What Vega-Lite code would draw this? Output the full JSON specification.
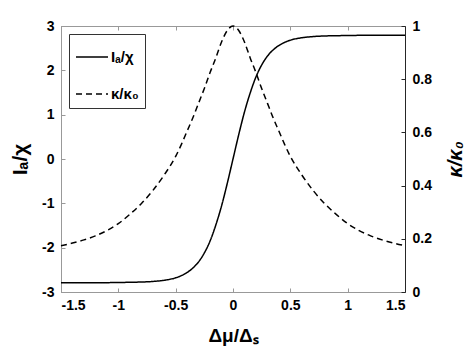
{
  "$schema": "https://vega.github.io/schema/vega-lite/v6.json",
  "width": 344,
  "height": 266,
  "autosize": "none",
  "padding": {"left": 61, "top": 26, "right": 64, "bottom": 60},
  "background": "white",
  "config": {
    "font": "Liberation Sans",
    "view": {"stroke": "#999999", "strokeWidth": 1},
    "axis": {
      "grid": false,
      "labelFont": "Liberation Sans",
      "labelFontSize": 14,
      "labelFontWeight": "bold",
      "labelColor": "black",
      "titleFont": "Liberation Sans",
      "titleFontWeight": "bold",
      "titleColor": "black",
      "tickSize": -4,
      "domainWidth": 1
    },
    "legend": {
      "orient": "none",
      "legendX": 8,
      "legendY": 8,
      "strokeColor": "#333333",
      "fillColor": "white",
      "padding": 6,
      "rowPadding": 12,
      "symbolType": "stroke",
      "symbolSize": 1024,
      "symbolStrokeWidth": 1.5,
      "symbolStrokeColor": "black",
      "labelFont": "Liberation Sans",
      "labelFontSize": 15,
      "labelFontWeight": "bold",
      "labelColor": "black",
      "labelOffset": 2
    }
  },
  "data": {
    "values": [
      {"x": -1.5, "s": "Iₐ/χ", "v": -2.79},
      {"x": -1.4, "s": "Iₐ/χ", "v": -2.79},
      {"x": -1.3, "s": "Iₐ/χ", "v": -2.79},
      {"x": -1.2, "s": "Iₐ/χ", "v": -2.79},
      {"x": -1.1, "s": "Iₐ/χ", "v": -2.789},
      {"x": -1.0, "s": "Iₐ/χ", "v": -2.786},
      {"x": -0.9, "s": "Iₐ/χ", "v": -2.781},
      {"x": -0.8, "s": "Iₐ/χ", "v": -2.775},
      {"x": -0.7, "s": "Iₐ/χ", "v": -2.762},
      {"x": -0.6, "s": "Iₐ/χ", "v": -2.735},
      {"x": -0.5, "s": "Iₐ/χ", "v": -2.68},
      {"x": -0.45, "s": "Iₐ/χ", "v": -2.63},
      {"x": -0.4, "s": "Iₐ/χ", "v": -2.56},
      {"x": -0.35, "s": "Iₐ/χ", "v": -2.46},
      {"x": -0.3, "s": "Iₐ/χ", "v": -2.32},
      {"x": -0.25, "s": "Iₐ/χ", "v": -2.12},
      {"x": -0.2, "s": "Iₐ/χ", "v": -1.85},
      {"x": -0.15, "s": "Iₐ/χ", "v": -1.49},
      {"x": -0.1, "s": "Iₐ/χ", "v": -1.06},
      {"x": -0.05, "s": "Iₐ/χ", "v": -0.55},
      {"x": 0, "s": "Iₐ/χ", "v": 0},
      {"x": 0.05, "s": "Iₐ/χ", "v": 0.55},
      {"x": 0.1, "s": "Iₐ/χ", "v": 1.06},
      {"x": 0.15, "s": "Iₐ/χ", "v": 1.49},
      {"x": 0.2, "s": "Iₐ/χ", "v": 1.85},
      {"x": 0.25, "s": "Iₐ/χ", "v": 2.12},
      {"x": 0.3, "s": "Iₐ/χ", "v": 2.32},
      {"x": 0.35, "s": "Iₐ/χ", "v": 2.46},
      {"x": 0.4, "s": "Iₐ/χ", "v": 2.56},
      {"x": 0.45, "s": "Iₐ/χ", "v": 2.63},
      {"x": 0.5, "s": "Iₐ/χ", "v": 2.68},
      {"x": 0.6, "s": "Iₐ/χ", "v": 2.735},
      {"x": 0.7, "s": "Iₐ/χ", "v": 2.762},
      {"x": 0.8, "s": "Iₐ/χ", "v": 2.775},
      {"x": 0.9, "s": "Iₐ/χ", "v": 2.781},
      {"x": 1.0, "s": "Iₐ/χ", "v": 2.786},
      {"x": 1.1, "s": "Iₐ/χ", "v": 2.789},
      {"x": 1.2, "s": "Iₐ/χ", "v": 2.79},
      {"x": 1.3, "s": "Iₐ/χ", "v": 2.79},
      {"x": 1.4, "s": "Iₐ/χ", "v": 2.79},
      {"x": 1.5, "s": "Iₐ/χ", "v": 2.79},
      {"x": -1.5, "s": "κ/κ₀", "v": 0.174},
      {"x": -1.4, "s": "κ/κ₀", "v": 0.184},
      {"x": -1.3, "s": "κ/κ₀", "v": 0.196},
      {"x": -1.2, "s": "κ/κ₀", "v": 0.211},
      {"x": -1.1, "s": "κ/κ₀", "v": 0.231},
      {"x": -1.0, "s": "κ/κ₀", "v": 0.257},
      {"x": -0.9, "s": "κ/κ₀", "v": 0.292},
      {"x": -0.8, "s": "κ/κ₀", "v": 0.332},
      {"x": -0.7, "s": "κ/κ₀", "v": 0.381},
      {"x": -0.6, "s": "κ/κ₀", "v": 0.44},
      {"x": -0.5, "s": "κ/κ₀", "v": 0.51},
      {"x": -0.45, "s": "κ/κ₀", "v": 0.555},
      {"x": -0.4, "s": "κ/κ₀", "v": 0.605},
      {"x": -0.35, "s": "κ/κ₀", "v": 0.655},
      {"x": -0.3, "s": "κ/κ₀", "v": 0.71},
      {"x": -0.25, "s": "κ/κ₀", "v": 0.765},
      {"x": -0.2, "s": "κ/κ₀", "v": 0.825},
      {"x": -0.15, "s": "κ/κ₀", "v": 0.88},
      {"x": -0.1, "s": "κ/κ₀", "v": 0.94},
      {"x": -0.05, "s": "κ/κ₀", "v": 0.983},
      {"x": 0, "s": "κ/κ₀", "v": 1.0},
      {"x": 0.05, "s": "κ/κ₀", "v": 0.983},
      {"x": 0.1, "s": "κ/κ₀", "v": 0.94},
      {"x": 0.15, "s": "κ/κ₀", "v": 0.88},
      {"x": 0.2, "s": "κ/κ₀", "v": 0.825},
      {"x": 0.25, "s": "κ/κ₀", "v": 0.765},
      {"x": 0.3, "s": "κ/κ₀", "v": 0.71},
      {"x": 0.35, "s": "κ/κ₀", "v": 0.655},
      {"x": 0.4, "s": "κ/κ₀", "v": 0.605},
      {"x": 0.45, "s": "κ/κ₀", "v": 0.555},
      {"x": 0.5, "s": "κ/κ₀", "v": 0.51},
      {"x": 0.6, "s": "κ/κ₀", "v": 0.44},
      {"x": 0.7, "s": "κ/κ₀", "v": 0.381},
      {"x": 0.8, "s": "κ/κ₀", "v": 0.332},
      {"x": 0.9, "s": "κ/κ₀", "v": 0.292},
      {"x": 1.0, "s": "κ/κ₀", "v": 0.257},
      {"x": 1.1, "s": "κ/κ₀", "v": 0.231},
      {"x": 1.2, "s": "κ/κ₀", "v": 0.211},
      {"x": 1.3, "s": "κ/κ₀", "v": 0.196},
      {"x": 1.4, "s": "κ/κ₀", "v": 0.184},
      {"x": 1.5, "s": "κ/κ₀", "v": 0.174}
    ]
  },
  "layer": [
    {
      "transform": [{"filter": "datum.s === 'Iₐ/χ'"}],
      "mark": {"type": "line", "color": "black", "strokeWidth": 1.5, "interpolate": "monotone"},
      "encoding": {
        "x": {
          "field": "x", "type": "quantitative",
          "scale": {"domain": [-1.5, 1.5], "nice": false},
          "axis": {
            "orient": "bottom",
            "values": [-1.5, -1, -0.5, 0, 0.5, 1, 1.5],
            "labelExpr": "replace(format(datum.value, '~g'), '\u2212', '-')",
            "domainColor": "#999999",
            "tickColor": "#999999",
            "labelPadding": 10,
            "title": "Δμ/Δₛ",
            "titleFontSize": 19,
            "titlePadding": 14
          }
        },
        "y": {
          "field": "v", "type": "quantitative",
          "scale": {"domain": [-3, 3], "nice": false},
          "axis": {
            "orient": "left",
            "values": [-3, -2, -1, 0, 1, 2, 3],
            "labelExpr": "replace(format(datum.value, '~g'), '\u2212', '-')",
            "domainColor": "#999999",
            "tickColor": "#999999",
            "labelPadding": 11,
            "title": "Iₐ/χ",
            "titleFontSize": 21,
            "titlePadding": 11
          }
        },
        "strokeDash": {
          "field": "s", "type": "nominal",
          "scale": {"domain": ["Iₐ/χ", "κ/κ₀"], "range": [[1, 0], [6, 4]]},
          "legend": {"title": null}
        }
      }
    },
    {
      "transform": [{"filter": "datum.s === 'κ/κ₀'"}],
      "mark": {"type": "line", "color": "black", "strokeWidth": 1.5, "interpolate": "monotone"},
      "encoding": {
        "x": {
          "field": "x", "type": "quantitative",
          "scale": {"domain": [-1.5, 1.5], "nice": false},
          "axis": {
            "orient": "top",
            "values": [-1.5, -1, -0.5, 0, 0.5, 1, 1.5],
            "labels": false,
            "domainColor": "#999999",
            "tickColor": "#999999",
            "title": null
          }
        },
        "y": {
          "field": "v", "type": "quantitative",
          "scale": {"domain": [0, 1], "nice": false},
          "axis": {
            "orient": "right",
            "values": [0, 0.2, 0.4, 0.6, 0.8, 1],
            "labelExpr": "format(datum.value, '~g')",
            "domainColor": "#262626",
            "tickColor": "#262626",
            "labelPadding": 11,
            "title": "κ/κ₀",
            "titleFontSize": 20,
            "titleFontStyle": "italic",
            "titleAngle": -90,
            "titlePadding": 34
          }
        },
        "strokeDash": {
          "field": "s", "type": "nominal",
          "scale": {"domain": ["Iₐ/χ", "κ/κ₀"], "range": [[1, 0], [6, 4]]},
          "legend": {"title": null}
        }
      }
    }
  ],
  "resolve": {"scale": {"y": "independent"}, "axis": {"x": "independent", "y": "independent"}}
}
